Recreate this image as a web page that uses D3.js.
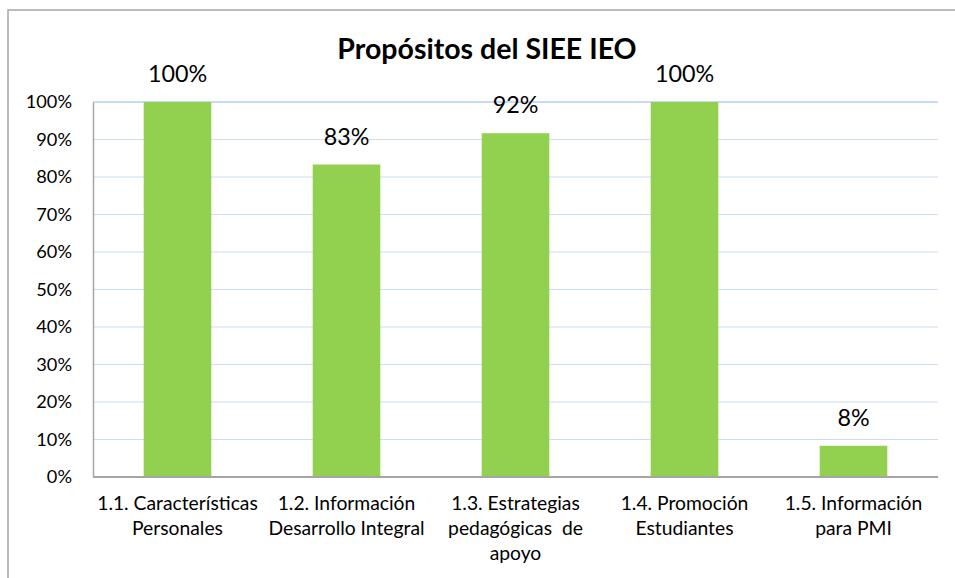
<!DOCTYPE html>
<html>
<head>
<meta charset="utf-8">
<script src="https://cdn.jsdelivr.net/npm/d3@7"></script>
<style>
  html, body { margin: 0; padding: 0; background: #fff; }
  svg { display: block; font-family: Lato, "Open Sans", sans-serif; }
</style>
</head>
<body>
<svg id="chart" width="955" height="578"></svg>
<script>
const title = "Propósitos del SIEE IEO";
const categories = ["1.1", "1.2", "1.3", "1.4", "1.5"];
const categoryLines = [
  ["1.1. Características", "Personales"],
  ["1.2. Información", "Desarrollo Integral"],
  ["1.3. Estrategias", "pedagógicas  de", "apoyo"],
  ["1.4. Promoción", "Estudiantes"],
  ["1.5. Información", "para PMI"]
];
const values = [1.0, 0.8333, 0.9167, 1.0, 0.0833];
const tickValues = [0, 0.1, 0.2, 0.3, 0.4, 0.5, 0.6, 0.7, 0.8, 0.9, 1.0];

const svg = d3.select("#chart");
const margin = { left: 93, right: 17, top: 102, bottom: 101 };
const W = 955, H = 578;

// outer frame
svg.append("rect")
  .attr("x", 8).attr("y", 10).attr("width", 1000).attr("height", 700)
  .attr("fill", "none").attr("stroke", "#A6A6A6").attr("stroke-width", 1.5);

const x = d3.scaleBand()
  .domain(categories)
  .range([margin.left, W - margin.right])
  .paddingInner(0.6).paddingOuter(0.3);

const y = d3.scaleLinear()
  .domain([0, 1])
  .range([H - margin.bottom, margin.top]);

// gridlines
svg.append("g")
  .selectAll("line")
  .data(tickValues.filter(d => d > 0))
  .join("line")
  .attr("x1", margin.left).attr("x2", W - margin.right)
  .attr("y1", d => y(d)).attr("y2", d => y(d))
  .attr("stroke", d => d === 1 ? "#8FB8EE" : "#CBDCF3")
  .attr("stroke-width", 1.2);

// bars
svg.append("g")
  .selectAll("rect")
  .data(values)
  .join("rect")
  .attr("x", (d, i) => x(categories[i]))
  .attr("width", x.bandwidth())
  .attr("y", d => y(d))
  .attr("height", d => y(0) - y(d))
  .attr("fill", "#92D050");

// y axis
const yAxis = d3.axisLeft(y)
  .tickValues(tickValues)
  .tickFormat(d3.format(".0%"))
  .tickSize(0).tickPadding(21);
const gy = svg.append("g")
  .attr("transform", `translate(${margin.left},0)`)
  .call(yAxis);
gy.select(".domain").attr("stroke", "#A6A6A6").attr("stroke-width", 1.5);
gy.selectAll("text")
  .attr("font-family", "Lato, sans-serif")
  .attr("font-size", 18.2)
  .attr("fill", "#000");

// x axis
const xAxis = d3.axisBottom(x).tickSize(0).tickFormat("");
const gx = svg.append("g")
  .attr("transform", `translate(0,${y(0)})`)
  .call(xAxis);
gx.select(".domain")
  .attr("d", `M${margin.left},0H${W - margin.right}`)
  .attr("stroke", "#A6A6A6").attr("stroke-width", 2);

// category labels
const lbl = svg.append("g")
  .selectAll("text")
  .data(categories)
  .join("text")
  .attr("text-anchor", "middle")
  .attr("font-size", 19.3)
  .attr("fill", "#000")
  .style("white-space", "pre");
lbl.each(function(c, i) {
  const t = d3.select(this);
  categoryLines[i].forEach((line, k) => {
    t.append("tspan")
      .attr("x", x(c) + x.bandwidth() / 2)
      .attr("y", y(0) + 33 + k * 25)
      .text(line);
  });
});

// data labels
svg.append("g")
  .selectAll("text")
  .data(values)
  .join("text")
  .attr("x", (d, i) => x(categories[i]) + x.bandwidth() / 2)
  .attr("y", d => y(d) - 20)
  .attr("text-anchor", "middle")
  .attr("font-size", 23.3)
  .attr("fill", "#000")
  .text(d => d3.format(".0%")(d));

// title
svg.append("text")
  .attr("x", 487).attr("y", 59)
  .attr("text-anchor", "middle")
  .attr("font-size", 28.5)
  .attr("font-weight", "bold")
  .attr("fill", "#000")
  .text(title);
</script>
</body>
</html>
